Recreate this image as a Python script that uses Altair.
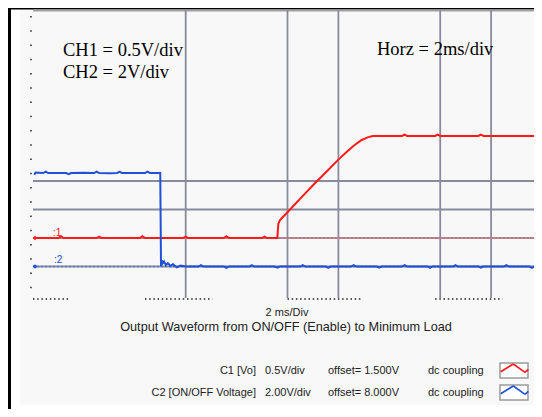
import altair as alt
import pandas as pd

# ---------------- data (time in ms, amplitude in screen divisions) ----------------
red_t = [0.05, 0.5, 1.0, 1.1, 1.2, 1.8, 2.5, 2.6, 2.7, 3.4, 4.2, 4.3, 4.4, 5.2, 5.9, 6.0, 6.1,
         6.8, 7.5, 7.6, 7.7, 8.4, 9.0, 9.1, 9.2, 9.56, 9.6, 9.64, 9.7, 9.8, 10.1, 10.5, 11.0,
         11.5, 12.0, 12.3, 12.6, 12.9, 13.15, 13.35, 13.8, 14.5, 14.6, 14.7, 15.8, 15.9, 16.0,
         17.5, 17.6, 17.7, 20.0]
red_v = [2.0, 2.0, 2.0, 2.06, 2.0, 2.0, 2.0, 2.05, 2.0, 2.0, 2.0, 2.06, 2.0, 2.0, 2.0, 2.05, 2.0,
         2.0, 2.0, 2.06, 2.0, 2.0, 2.0, 2.05, 2.0, 2.0, 2.0, 2.5, 2.62, 2.72, 3.0, 3.38, 3.85,
         4.3, 4.75, 5.0, 5.24, 5.43, 5.53, 5.58, 5.58, 5.58, 5.63, 5.58, 5.58, 5.63, 5.58,
         5.58, 5.63, 5.58, 5.58]

blue_t = [0.05, 0.1, 0.4, 0.5, 0.6, 1.0, 1.3, 1.4, 1.5, 2.0, 2.4, 2.5, 2.6, 3.0, 3.3, 3.4, 3.5,
          4.0, 4.4, 4.5, 4.6, 5.0, 5.03, 5.06, 5.1, 5.15, 5.22, 5.3, 5.4, 5.5, 5.65, 5.8, 6.0,
          6.5, 6.6, 6.7, 7.5, 7.6, 7.7, 8.5, 8.6, 8.7, 9.5, 9.6, 9.7, 10.5, 10.6, 10.7, 11.5,
          11.6, 11.7, 12.5, 12.6, 12.7, 13.5, 13.6, 13.7, 14.5, 14.6, 14.7, 15.5, 15.6, 15.7,
          16.5, 16.6, 16.7, 17.5, 17.6, 17.7, 18.5, 18.6, 18.7, 19.5, 19.6, 19.7, 20.0]
blue_v = [4.22, 4.3, 4.28, 4.33, 4.28, 4.28, 4.28, 4.24, 4.28, 4.29, 4.28, 4.33, 4.28, 4.27, 4.28,
          4.32, 4.28, 4.28, 4.28, 4.33, 4.28, 4.28, 1.0, 1.22, 1.12, 1.18, 1.05, 1.12, 1.02, 1.08,
          0.97, 1.03, 1.0, 1.0, 1.05, 1.0, 1.0, 0.95, 1.0, 1.0, 1.05, 1.0, 1.0, 0.96, 1.0, 1.0,
          1.05, 1.0, 1.0, 0.95, 1.0, 1.0, 1.05, 1.0, 1.0, 0.96, 1.0, 1.0, 1.05, 1.0, 1.0, 0.95,
          1.0, 1.0, 1.05, 1.0, 1.0, 0.96, 1.0, 1.0, 1.05, 1.0, 1.0, 0.95, 1.0, 1.0]

grid_x_ms = [6, 10, 12, 16, 18]
grid_y_div = [1, 2, 3, 4]
bottom_tick_start = [0.0, 4.4, 10.0, 15.8]
bottom_tick_end = [1.45, 7.05, 12.9, 18.45]

legend_names = ["C1  [Vo]", "C2 [ON/OFF Voltage]"]
legend_scales = ["0.5V/div", "2.00V/div"]
legend_offsets = ["offset= 1.500V", "offset= 8.000V"]
legend_coupling = ["dc coupling", "dc coupling"]

RED = "#ff1a1a"
BLUE = "#2050d8"
GRID = "#8a8a9e"

# ---------------- geometry ----------------
PLOT_W = 501          # visible part of the 509 px wide (10 div) screen
FULL_W = 509
XMAX = 20.0 * PLOT_W / FULL_W
XS = alt.Scale(domain=[0, XMAX], nice=False, zero=False)
YS = alt.Scale(domain=[0, 10], nice=False, zero=False)

one = pd.DataFrame({"a": [0]})
red_df = pd.DataFrame({"t": red_t, "v": red_v})
blue_df = pd.DataFrame({"t": blue_t, "v": blue_v})
gx = pd.DataFrame({"t": grid_x_ms})
gy = pd.DataFrame({"v": grid_y_div})
bt = pd.DataFrame({"t": bottom_tick_start, "t2": bottom_tick_end})
leg = pd.DataFrame({"row": [0, 1], "name": legend_names, "scale": legend_scales,
                    "offset": legend_offsets, "coupling": legend_coupling})


def V(v):
    return alt.value(v)


def rect(x, x2, y, y2, **kw):
    return alt.Chart(one).mark_rect(**kw).encode(x=V(x), x2=V(x2), y=V(y), y2=V(y2))


def seg(x, y, x2, y2, **kw):
    return alt.Chart(one).mark_rule(**kw).encode(x=V(x), y=V(y), x2=V(x2), y2=V(y2))


layers = []
layers.append(rect(-13, PLOT_W, -2, 395, color="#f8f8f8"))
layers.append(rect(-25, -22, -2, 399, color="black"))
layers.append(rect(-25, PLOT_W, -2, -0.6, color="black"))
layers.append(seg(0, 0.6, PLOT_W, 0.6, color="#a0a0a0", strokeWidth=2))

layers.append(alt.Chart(gx).mark_rule(color=GRID, strokeWidth=1.8).encode(
    x=alt.X("t:Q", scale=XS, axis=None), y=V(0), y2=V(288)))
layers.append(alt.Chart(gy).mark_rule(color=GRID, strokeWidth=1.8).encode(
    y=alt.Y("v:Q", scale=YS, axis=None), x=V(0), x2=V(PLOT_W)))

layers.append(alt.Chart(one).mark_rule(color="#333", strokeWidth=1.6, strokeDash=[1.6, 12.65]).encode(
    x=V(-2), y=V(6), y2=V(290)))
layers.append(alt.Chart(bt).mark_rule(color="#222", strokeWidth=1.5, strokeDash=[1.5, 2.7]).encode(
    x=alt.X("t:Q", scale=XS, axis=None), x2="t2:Q", y=V(289)))

layers.append(seg(0, 228, PLOT_W, 228, color="#ff7070", strokeWidth=1.5, strokeDash=[2, 2]))
layers.append(seg(0, 256.5, PLOT_W, 256.5, color="#5a78c8", strokeWidth=1.5, strokeDash=[2, 2]))

layers.append(alt.Chart(red_df).mark_line(color=RED, strokeWidth=2, clip=True).encode(
    x=alt.X("t:Q", scale=XS, axis=None), y=alt.Y("v:Q", scale=YS, axis=None), order="t:Q"))
layers.append(alt.Chart(blue_df).mark_line(color=BLUE, strokeWidth=2, clip=True).encode(
    x=alt.X("t:Q", scale=XS, axis=None), y=alt.Y("v:Q", scale=YS, axis=None), order="t:Q"))

layers.append(alt.Chart(one).mark_point(shape="diamond", filled=True, color=RED, size=22, opacity=1).encode(
    x=V(2), y=V(228)))
layers.append(alt.Chart(one).mark_point(shape="diamond", filled=True, color=BLUE, size=22, opacity=1).encode(
    x=V(2), y=V(256.5)))
layers.append(alt.Chart(one).mark_text(text=":1", color=RED, fontSize=10, font="Liberation Sans",
                                       align="left", baseline="middle").encode(x=V(20), y=V(223)))
layers.append(alt.Chart(one).mark_text(text=":2", color=BLUE, fontSize=10, font="Liberation Sans",
                                       align="left", baseline="middle").encode(x=V(21), y=V(250)))

serif = dict(font="Liberation Serif", fontSize=18.5, color="black", align="left", baseline="alphabetic")
layers.append(alt.Chart(one).mark_text(text="CH1 = 0.5V/div", **serif).encode(x=V(30), y=V(45.5)))
layers.append(alt.Chart(one).mark_text(text="CH2 = 2V/div", **serif).encode(x=V(30), y=V(68)))
layers.append(alt.Chart(one).mark_text(text="Horz = 2ms/div", **serif).encode(x=V(344), y=V(44.5)))

small = dict(font="Liberation Sans", color="#222", baseline="middle")
layers.append(alt.Chart(one).mark_text(text="2 ms/Div", fontSize=11, align="center", **small).encode(
    x=V(254), y=V(303)))
layers.append(alt.Chart(one).mark_text(text="Output Waveform from ON/OFF (Enable) to Minimum Load",
                                       fontSize=12.7, align="center", **small).encode(x=V(253), y=V(317)))

row_y = [361, 383]
cols = [("name", 223, "right"), ("scale", 232, "left"), ("offset", 295, "left"), ("coupling", 395, "left")]
for r in range(2):
    for field, cx, al in cols:
        layers.append(alt.Chart(leg).transform_filter(alt.datum.row == r).mark_text(
            fontSize=11, align=al, **small).encode(x=V(cx), y=V(row_y[r]), text=f"{field}:N"))

box_top = [353, 375]
zig_colors = [RED, BLUE]
for r in range(2):
    b = box_top[r]
    layers.append(rect(467, 495, b, b + 15, fill="white", stroke="#9a9a9a", strokeWidth=1.5))
    pts = [(467.7, b + 8.7), (480.3, b + 1.0), (492.0, b + 9.3), (495.3, b + 6.3)]
    for (ax, ay), (bx, by) in zip(pts[:-1], pts[1:]):
        layers.append(seg(ax, ay, bx, by, color=zig_colors[r], strokeWidth=1.6))

chart = alt.layer(*layers).properties(
    width=PLOT_W, height=285,
    padding={"left": 25, "top": 2, "right": 0, "bottom": 114},
    autosize=alt.AutoSizeParams(type="none"),
    background="white",
).configure_view(stroke=None)

chart.save("out.html", embed_options={"renderer": "svg", "actions": False})
